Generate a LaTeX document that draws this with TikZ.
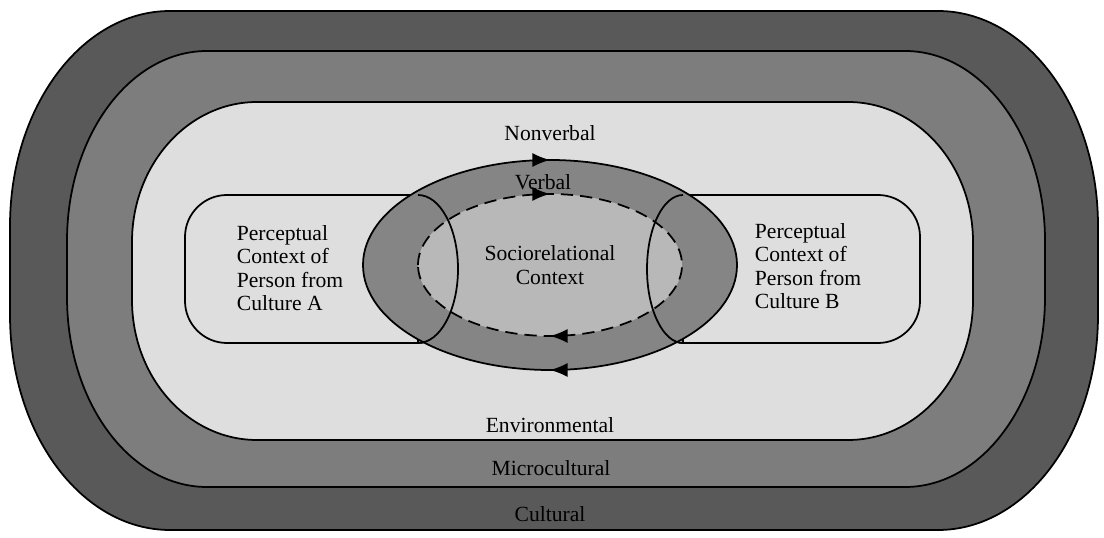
\documentclass[tikz,border=0pt]{standalone}
\usepackage{fontspec}
\setmainfont{Liberation Serif}
\usetikzlibrary{arrows.meta, decorations.markings, positioning}
\tikzset{>={Latex[length=10pt, width=8pt]}}

\definecolor{culturalgray}{gray}{0.35}
\definecolor{microgray}{gray}{0.49}
\definecolor{envgray}{gray}{0.87}
\definecolor{verbalgray}{gray}{0.52}
\definecolor{socialgray}{gray}{0.72}

% oval with elliptic corners: x1, y1, x2, y2, rx, ry
\newcommand{\ovalpath}[6]{%
  (#1+#5,#2) -- (#3-#5,#2)
  arc[start angle=-90, end angle=0, x radius=#5, y radius=#6] -- (#3,#4-#6)
  arc[start angle=0, end angle=90, x radius=#5, y radius=#6] -- (#1+#5,#4)
  arc[start angle=90, end angle=180, x radius=#5, y radius=#6] -- (#1,#2+#6)
  arc[start angle=180, end angle=270, x radius=#5, y radius=#6] -- cycle}

\begin{document}
\begin{tikzpicture}[x=0.02cm, y=0.02cm, line width=1pt,
  every node/.style={font=\fontsize{12.3}{13.4}\selectfont, inner sep=0pt},
  layer/.style={draw=black, line join=round},
  flowmarks/.style={postaction={decorate, decoration={markings,
      mark=at position 0.25 with {\arrow{>}},
      mark=at position 0.75 with {\arrow{>}}}}}]

\useasboundingbox (0,0) rectangle (1104,537);

% --- Context layers ---
\fill[layer, fill=culturalgray] \ovalpath{10}{7}{1098}{526}{160}{215};
\fill[layer, fill=microgray] \ovalpath{67}{50}{1045}{486}{140}{190};
\fill[layer, fill=envgray] \ovalpath{132}{97}{973}{435}{125}{140};

% --- Perceptual contexts ---
\draw[fill=envgray, rounded corners=0.84cm]
  (418,342) -- (185,342) -- (185,194) -- (418,194);
\draw[fill=envgray] (418,194) -- (418,342)
  arc[start angle=90, end angle=-90, x radius=40, y radius=74];
\draw[fill=envgray, rounded corners=0.84cm]
  (683,194) -- (920,194) -- (920,342) -- (683,342);
\draw[fill=envgray] (683,342) -- (683,194)
  arc[start angle=-90, end angle=-270, x radius=36, y radius=74];

% --- Verbal / nonverbal messages ---
\coordinate (centre) at (550,272);
\fill[verbalgray] (centre) ellipse [x radius=187, y radius=105];
\draw[flowmarks] (centre) ++(-187,0)
  arc[start angle=180, end angle=-180, x radius=187, y radius=105];
\fill[socialgray] (centre) ellipse [x radius=132, y radius=71];
\draw[dash pattern=on 7pt off 4pt, flowmarks] (centre) ++(-132,0)
  arc[start angle=180, end angle=-180, x radius=132, y radius=71];

% --- Box edges over the ellipse ---
\draw (418,342) arc[start angle=90, end angle=-90, x radius=40, y radius=74];
\draw (683,342) arc[start angle=90, end angle=270, x radius=36, y radius=74];

% --- Labels ---
\node (socio) [align=center] at (centre) {Sociorelational\\Context};
\node (nonverbal) at (550,404) {Nonverbal};
\node (verbal) at (543,355) {Verbal};
\node (personA) [align=left, anchor=west] at (236,269)
  {Perceptual\\Context of\\Person from\\Culture A};
\node (personB) [align=left, anchor=west] at (754,271)
  {Perceptual\\Context of\\Person from\\Culture B};
\node (environmental) at (550,112) {Environmental};
\node (microcultural) at (551,69) {Microcultural};
\node (cultural) at (550,23) {Cultural};

\end{tikzpicture}
\end{document}
